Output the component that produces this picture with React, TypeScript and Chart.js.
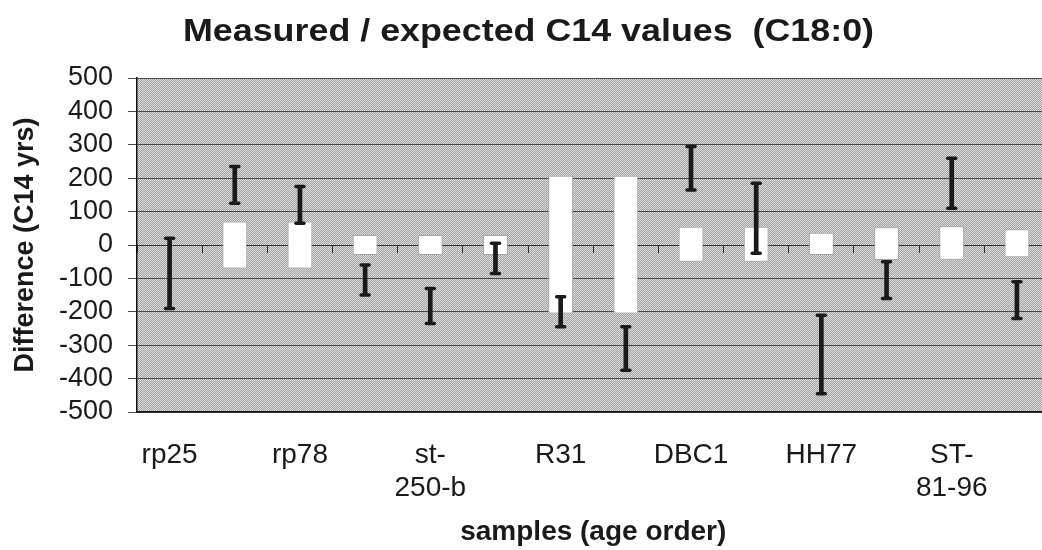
import React, { useEffect, useRef } from 'react';
import { Chart, registerables } from 'chart.js';

Chart.register(...registerables);

// ---- data ----
const categories: (string | string[])[] = [
  'rp25', '', 'rp78', '', ['st-', '250-b'], '', 'R31', '', 'DBC1', '', 'HH77', '', ['ST-', '81-96'], '',
];
const expectedLow: (number | null)[] = [null, -70, -70, -30, -30, -30, -205, -205, -50, -50, -30, -45, -44, -37];
const expectedHigh: (number | null)[] = [null, 70, 70, 30, 30, 30, 207, 207, 55, 55, 37, 53, 56, 47];
const measuredLow: number[] = [-190, 125, 65, -150, -235, -85, -245, -375, 165, -25, -445, -160, 110, -220];
const measuredHigh: number[] = [20, 235, 175, -60, -130, 5, -155, -245, 295, 185, -210, -50, 260, -110];
const yMin = -500;
const yMax = 500;
const yStep = 100;

const titleText = 'Measured / expected C14 values  (C18:0)';
const yTitle = 'Difference (C14 yrs)';
const xTitle = 'samples (age order)';

const FONT = "'Liberation Sans', Arial, Helvetica, sans-serif";
const INK = '#1a1a1a';

const stretchedTitle = {
  id: 'stretchedTitle',
  afterDraw(chart: any, _args: any, opts: any) {
    const ctx = chart.ctx as CanvasRenderingContext2D;
    ctx.save();
    ctx.font = `bold ${opts.size}px ${FONT}`;
    ctx.fillStyle = opts.color;
    ctx.textAlign = 'center';
    ctx.textBaseline = 'alphabetic';
    const w = ctx.measureText(opts.text).width;
    const sx = opts.width / w;
    ctx.translate(chart.width / 2, opts.baseline);
    ctx.scale(sx, 1);
    ctx.fillText(opts.text, 0, 0);
    ctx.restore();
  },
};

const hatchBackground = {
  id: 'hatchBackground',
  beforeDraw(chart: any) {
    const { ctx, chartArea } = chart;
    if (!chartArea) return;
    const tile = document.createElement('canvas');
    tile.width = 2;
    tile.height = 2;
    const t = tile.getContext('2d')!;
    t.fillStyle = '#dcdcdc';
    t.fillRect(0, 0, 2, 2);
    t.fillStyle = '#a2a2a2';
    t.fillRect(1, 0, 1, 1);
    t.fillRect(0, 1, 1, 1);
    const pattern = ctx.createPattern(tile, 'repeat');
    ctx.save();
    ctx.fillStyle = pattern;
    ctx.fillRect(chartArea.left, chartArea.top, chartArea.right - chartArea.left, chartArea.bottom - chartArea.top);
    ctx.restore();
  },
};

const roundCaps = {
  id: 'roundCaps',
  beforeDatasetDraw(chart: any, args: any) {
    const ds = chart.data.datasets[args.index];
    if (ds && ds.isCap) {
      chart.ctx.save();
      chart.ctx.lineCap = 'round';
    }
  },
  afterDatasetDraw(chart: any, args: any) {
    const ds = chart.data.datasets[args.index];
    if (ds && ds.isCap) chart.ctx.restore();
  },
};

export default function App() {
  const ref = useRef<HTMLCanvasElement | null>(null);

  useEffect(() => {
    if (!ref.current) return;
    const expectedRanges = expectedLow.map((lo, i) =>
      lo === null || expectedHigh[i] === null ? null : [lo, expectedHigh[i] as number]
    );
    const measuredRanges = measuredLow.map((lo, i) => [lo, measuredHigh[i]]);

    const capStyle = {
      type: 'line',
      showLine: false,
      pointStyle: 'line',
      pointRadius: 4,
      pointBorderWidth: 3.5,
      pointBorderColor: INK,
      pointBackgroundColor: INK,
      borderColor: INK,
      xAxisID: 'x',
      yAxisID: 'y',
      order: 0,
      isCap: true,
    };

    const chart = new Chart(ref.current, {
      type: 'bar',
      data: {
        labels: categories as any,
        datasets: [
          { ...capStyle, label: 'measured high', data: measuredHigh } as any,
          { ...capStyle, label: 'measured low', data: measuredLow } as any,
          {
            type: 'bar',
            label: 'measured',
            data: measuredRanges as any,
            backgroundColor: INK,
            borderWidth: 0,
            barThickness: 4,
            grouped: false,
            xAxisID: 'x',
            yAxisID: 'y',
            order: 1,
          } as any,
          {
            type: 'bar',
            label: 'expected',
            data: expectedRanges as any,
            backgroundColor: '#ffffff',
            borderColor: '#a8a8a8',
            borderWidth: 1,
            borderSkipped: false,
            barPercentage: 0.38,
            categoryPercentage: 1,
            grouped: false,
            xAxisID: 'x',
            yAxisID: 'y',
            order: 2,
          } as any,
        ],
      },
      options: {
        responsive: false,
        animation: false,
        devicePixelRatio: 1,
        events: [],
        layout: { padding: { top: 78, left: 0, right: 0, bottom: 0 } },
        plugins: {
          legend: { display: false },
          tooltip: { enabled: false },
          title: { display: false },
          stretchedTitle: { text: titleText, size: 31, color: INK, baseline: 41, width: 691 },
        } as any,
        scales: {
          x: {
            type: 'category',
            position: 'bottom',
            offset: true,
            afterFit: (scale: any) => {
              scale.height = 138;
            },
            grid: { display: false, drawTicks: false },
            border: { display: true, color: '#111', width: 1.5 },
            ticks: {
              autoSkip: false,
              maxRotation: 0,
              minRotation: 0,
              padding: 27,
              color: INK,
              font: { family: FONT, size: 28, lineHeight: '33px' as any },
            },
            title: {
              display: true,
              text: xTitle,
              color: INK,
              font: { family: FONT, size: 28, weight: 'bold' },
              padding: { top: 0, bottom: 1 },
            },
          },
          x0: {
            type: 'category',
            axis: 'x',
            position: { y: 0 } as any,
            offset: true,
            grid: {
              display: true,
              drawOnChartArea: false,
              drawTicks: true,
              tickLength: 7,
              offset: true,
              color: '#333',
              lineWidth: 1,
            },
            border: { display: true, color: '#333', width: 1 },
            ticks: { display: false },
          } as any,
          y: {
            type: 'linear',
            position: 'left',
            min: yMin,
            max: yMax,
            afterFit: (scale: any) => {
              scale.width = 137;
            },
            ticks: {
              stepSize: yStep,
              autoSkip: false,
              padding: 15,
              color: INK,
              font: { family: FONT, size: 27 },
            },
            grid: {
              color: '#4a4a4a',
              lineWidth: 1,
              drawTicks: true,
              tickLength: 9,
            },
            border: { display: true, color: '#111', width: 1.5 },
            title: {
              display: true,
              text: yTitle,
              color: INK,
              font: { family: FONT, size: 27, weight: 'bold' },
              padding: { top: 9, bottom: 0 },
            },
          },
        },
      },
      plugins: [hatchBackground, stretchedTitle, roundCaps],
    });
    return () => chart.destroy();
  }, []);

  return (
    <div
      style={{
        position: 'fixed',
        left: 0,
        top: 0,
        width: 1042,
        height: 550,
        overflow: 'hidden',
        background: '#ffffff',
      }}
    >
      <canvas ref={ref} width={1057} height={550} style={{ display: 'block' }} />
    </div>
  );
}
